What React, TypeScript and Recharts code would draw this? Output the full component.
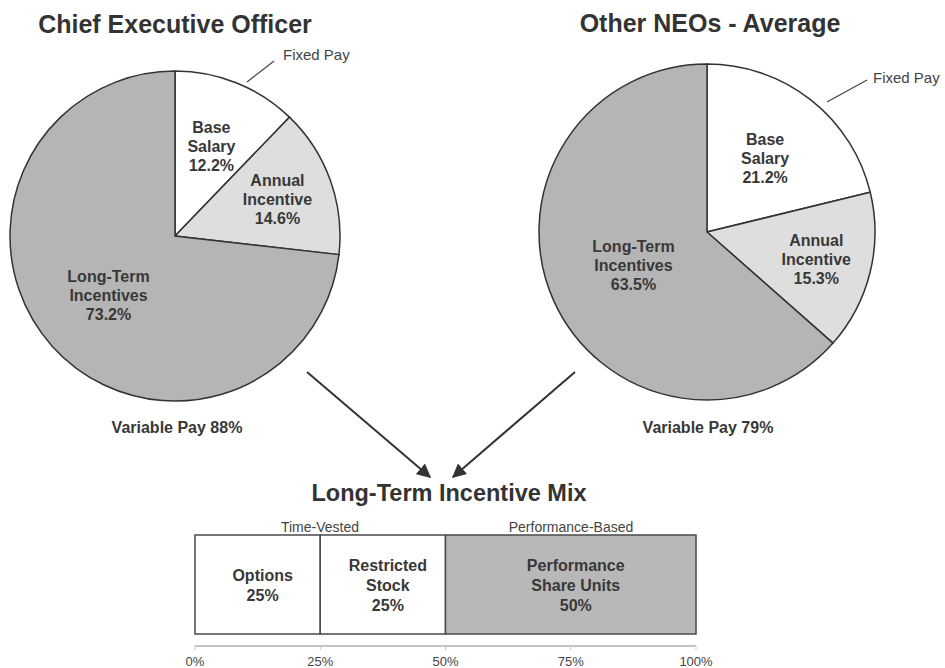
import { PieChart, Pie, Cell, BarChart, Bar, XAxis, YAxis, LabelList } from 'recharts';

const sliceNames = ['Base Salary', 'Annual Incentive', 'Long-Term Incentives'];
const ceoMix = [12.2, 14.6, 73.2];
const neoMix = [21.2, 15.3, 63.5];
const variablePay = [88, 79];

const ltiParts = ['Options', 'Restricted Stock', 'Performance Share Units'];
const ltiLines = [['Options'], ['Restricted', 'Stock'], ['Performance', 'Share Units']];
const ltiShares = [25, 25, 50];
const axisTicks = [0, 25, 50, 75, 100];

const sliceColors = ['#ffffff', '#dedede', '#b5b5b5'];
const barColors = ['#ffffff', '#ffffff', '#b8b8b8'];
const FONT = '"Liberation Sans", Arial, sans-serif';
const RAD = Math.PI / 180;

const ceoData = sliceNames.map((name, i) => ({ name, value: ceoMix[i] }));
const neoData = sliceNames.map((name, i) => ({ name, value: neoMix[i] }));
const ltiRow: Record<string, any> = { name: 'LTI' };
ltiParts.forEach((p, i) => (ltiRow[p] = ltiShares[i]));
const ltiData = [ltiRow];

// how far out (fraction of radius) each slice label sits
const makePieLabel = (factors: number[]) => (props: any) => {
  const { cx, cy, midAngle, outerRadius, index, name, value } = props;
  const r = outerRadius * factors[index];
  const x = cx + r * Math.cos(-midAngle * RAD);
  const y = cy + r * Math.sin(-midAngle * RAD);
  const words = String(name).split(' ');
  const lines = [...words, `${Number(value).toFixed(1)}%`];
  const start = y - ((lines.length - 1) * 19) / 2;
  return (
    <text
      x={x}
      textAnchor="middle"
      dominantBaseline="central"
      fill="#383838"
      fontFamily={FONT}
      fontWeight="bold"
      fontSize={16}
    >
      {lines.map((l, i) => (
        <tspan key={i} x={x} y={start + i * 19}>
          {l}
        </tspan>
      ))}
    </text>
  );
};

const makeBarLabel = (idx: number) => (props: any) => {
  const { x, y, width, height, value } = props;
  const lines = [...ltiLines[idx], `${value}%`];
  const cx = x + width / 2 + 5;
  const start = y + height / 2 - ((lines.length - 1) * 20) / 2;
  return (
    <text
      x={cx}
      textAnchor="middle"
      dominantBaseline="central"
      fill="#383838"
      fontFamily={FONT}
      fontWeight="bold"
      fontSize={16}
    >
      {lines.map((l, i) => (
        <tspan key={i} x={cx} y={start + i * 20}>
          {l}
        </tspan>
      ))}
    </text>
  );
};

const abs: React.CSSProperties = { position: 'absolute', left: 0, top: 0 };

export default function App() {
  return (
    <div style={{ position: 'absolute', left: 0, top: 0, width: 945, height: 668, background: '#fff' }}>
      <div style={abs}>
        <PieChart width={945} height={668} margin={{ top: 0, right: 0, bottom: 0, left: 0 }}>
          <Pie
            data={ceoData}
            dataKey="value"
            cx={175}
            cy={236}
            outerRadius={165}
            startAngle={90}
            endAngle={-270}
            stroke="#333"
            strokeWidth={1.5}
            labelLine={false}
            label={makePieLabel([0.59, 0.66, 0.54])}
            isAnimationActive={false}
          >
            {ceoData.map((_, i) => (
              <Cell key={i} fill={sliceColors[i]} />
            ))}
          </Pie>
          <Pie
            data={neoData}
            dataKey="value"
            cx={707}
            cy={232}
            outerRadius={168}
            startAngle={90}
            endAngle={-270}
            stroke="#333"
            strokeWidth={1.5}
            labelLine={false}
            label={makePieLabel([0.56, 0.67, 0.48])}
            isAnimationActive={false}
          >
            {neoData.map((_, i) => (
              <Cell key={i} fill={sliceColors[i]} />
            ))}
          </Pie>
        </PieChart>
      </div>

      <div style={abs}>
        <BarChart
          width={945}
          height={668}
          data={ltiData}
          layout="vertical"
          barCategoryGap={12}
          margin={{ top: 523, right: 249, bottom: 0, left: 195 }}
        >
          <XAxis
            type="number"
            domain={[0, 100]}
            ticks={axisTicks}
            interval={0}
            height={22}
            tickFormatter={(v) => `${v}%`}
            axisLine={{ stroke: '#c4c4c4', strokeWidth: 2 }}
            tickLine={{ stroke: '#c4c4c4' }}
            tickSize={4}
            tickMargin={7}
            tick={{ fill: '#444', fontSize: 13, fontFamily: FONT }}
          />
          <YAxis type="category" dataKey="name" hide width={0} />
          {ltiParts.map((p, i) => (
            <Bar
              key={p}
              dataKey={p}
              stackId="lti"
              fill={barColors[i]}
              stroke="#4a4a4a"
              strokeWidth={1.5}
              isAnimationActive={false}
            >
              <LabelList dataKey={p} content={makeBarLabel(i)} />
            </Bar>
          ))}
        </BarChart>
      </div>

      <svg style={{ ...abs, pointerEvents: 'none' }} width={945} height={668} fontFamily={FONT}>
        <defs>
          <marker id="arrowHead" viewBox="0 0 10 10" refX="9" refY="5" markerWidth="7" markerHeight="7" orient="auto">
            <path d="M0,0 L10,5 L0,10 z" fill="#333" />
          </marker>
        </defs>
        <text x={175} y={33} textAnchor="middle" fontSize={25} fontWeight="bold" fill="#333">
          Chief Executive Officer
        </text>
        <text x={710} y={32} textAnchor="middle" fontSize={25} fontWeight="bold" fill="#333">
          Other NEOs - Average
        </text>

        <line x1={247} y1={82} x2={274} y2={61} stroke="#444" strokeWidth={1.2} />
        <text x={283} y={60} fontSize={15} fill="#444">
          Fixed Pay
        </text>
        <line x1={827} y1={102} x2={867} y2={80} stroke="#444" strokeWidth={1.2} />
        <text x={873} y={83} fontSize={15} fill="#444">
          Fixed Pay
        </text>

        <text x={177} y={433} textAnchor="middle" fontSize={16} fontWeight="bold" fill="#383838">
          {`Variable Pay ${variablePay[0]}%`}
        </text>
        <text x={708} y={433} textAnchor="middle" fontSize={16} fontWeight="bold" fill="#383838">
          {`Variable Pay ${variablePay[1]}%`}
        </text>

        <line x1={307} y1={372} x2={430} y2={477} stroke="#333" strokeWidth={2} markerEnd="url(#arrowHead)" />
        <line x1={575} y1={372} x2={453} y2={477} stroke="#333" strokeWidth={2} markerEnd="url(#arrowHead)" />

        <text x={449} y={501} textAnchor="middle" fontSize={23.5} fontWeight="bold" fill="#333">
          Long-Term Incentive Mix
        </text>
        <text x={320} y={532} textAnchor="middle" fontSize={14} fill="#444">
          Time-Vested
        </text>
        <text x={571} y={532} textAnchor="middle" fontSize={14} fill="#444">
          Performance-Based
        </text>
      </svg>
    </div>
  );
}
